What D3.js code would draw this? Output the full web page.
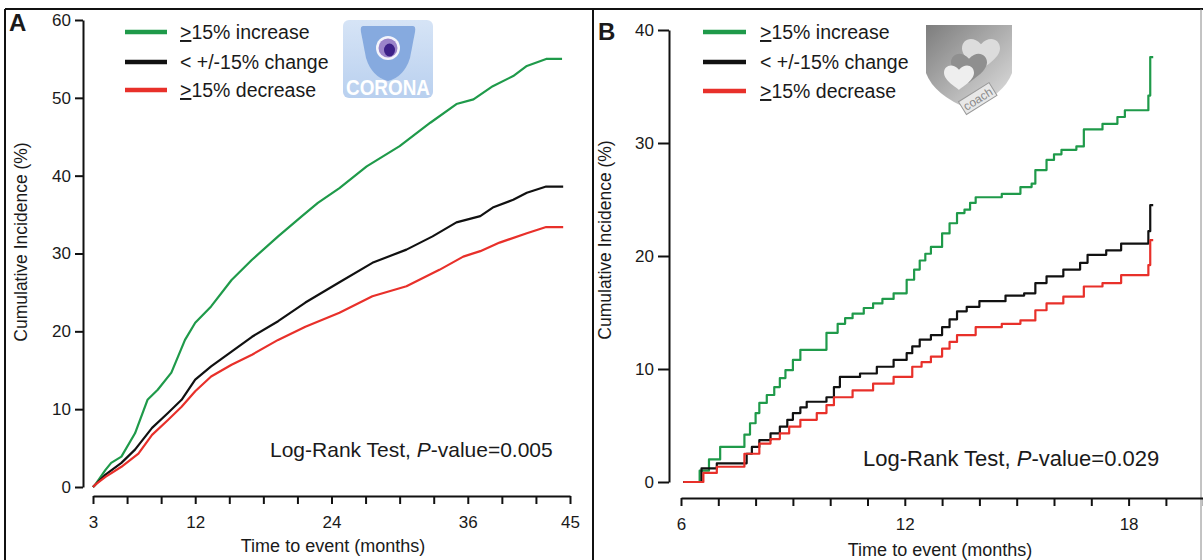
<!DOCTYPE html>
<html><head><meta charset="utf-8">
<script src="https://cdn.jsdelivr.net/npm/d3@7"></script>
<style>
body{margin:0;background:#fff;}
text{font-family:"Liberation Sans",Arial,Helvetica,sans-serif;fill:#1a1a1a;}
</style>
</head><body>
<svg id="c" width="1203" height="560"></svg>
<script>
// ---------- data ----------
const groupLabels = ["15% increase", "< +/-15% change", "15% decrease"];
const groupUnderlinedGE = [true, false, true];
const groupColors = ["#1f9a4a", "#111111", "#e8302a"];

// Panel A (CORONA) : [months, cumulative incidence %]
const coronaIncrease = [[3,0],[3.2,0.3],[4.1,2.2],[4.6,3.1],[5.5,3.9],[6.7,6.9],[7.8,11.2],[8.7,12.5],[9.9,14.7],[11.1,18.9],[12.0,21.1],[13.4,23.2],[15.2,26.6],[17.0,29.2],[19.3,32.2],[21.4,34.8],[22.8,36.5],[24.7,38.4],[27.1,41.2],[30.0,43.8],[32.7,46.8],[35.0,49.2],[36.5,49.8],[38.2,51.5],[40.0,52.8],[41.2,54.1],[42.9,55.0],[44.3,55.0]];
const coronaChange = [[3,0],[3.2,0.3],[4.1,1.6],[5.5,3.1],[6.7,4.8],[8.2,7.6],[9.6,9.5],[10.8,11.2],[12.0,13.8],[13.4,15.5],[15.2,17.4],[17.0,19.3],[19.3,21.3],[21.7,23.7],[24.7,26.3],[27.6,28.8],[30.6,30.5],[32.9,32.2],[35.0,34.0],[37.1,34.8],[38.2,35.9],[40.0,36.9],[41.2,37.8],[42.9,38.6],[44.4,38.6]];
const coronaDecrease = [[3,0],[3.2,0.3],[4.1,1.3],[5.5,2.6],[7.0,4.3],[8.2,6.7],[9.6,8.6],[10.8,10.3],[12.0,12.3],[13.4,14.2],[15.2,15.7],[17.0,17.0],[19.3,18.9],[21.7,20.6],[24.7,22.4],[27.6,24.5],[30.6,25.8],[33.5,27.9],[35.6,29.6],[37.1,30.3],[38.8,31.4],[41.2,32.6],[42.9,33.4],[44.4,33.4]];

// Panel B (COACH) : step events [months, cumulative incidence %]
const coachIncrease = [[6.06,0],[6.5,1.0],[6.75,2.0],[7.05,3.1],[7.7,4.2],[7.85,5.2],[8.0,6.1],[8.1,7.0],[8.3,7.7],[8.5,8.4],[8.65,9.2],[8.8,9.9],[9.0,10.8],[9.2,11.7],[9.9,13.2],[10.2,14.0],[10.4,14.5],[10.6,14.9],[10.9,15.4],[11.15,15.8],[11.4,16.2],[11.7,16.7],[12.05,17.9],[12.25,18.8],[12.4,19.6],[12.55,20.2],[12.7,20.8],[13.0,22.0],[13.2,22.9],[13.4,23.8],[13.6,24.1],[13.75,24.7],[13.9,25.2],[14.6,25.5],[15.1,26.1],[15.4,26.4],[15.5,27.6],[15.8,28.5],[16.0,29.0],[16.2,29.4],[16.6,29.7],[16.8,31.2],[17.3,31.7],[17.7,32.3],[17.9,32.9],[18.53,34.2],[18.58,37.6],[18.66,37.6]];
const coachChange = [[6.06,0],[6.55,1.2],[6.96,1.65],[7.76,2.5],[7.9,3.1],[8.1,3.7],[8.4,4.3],[8.65,4.9],[8.85,5.5],[9.0,6.1],[9.2,6.6],[9.37,7.1],[9.9,7.5],[10.1,8.4],[10.26,9.3],[10.8,9.6],[11.25,10.2],[11.7,10.8],[12.05,11.4],[12.2,12.0],[12.4,12.6],[12.7,13.0],[13.0,13.7],[13.2,14.4],[13.4,15.1],[13.66,15.5],[14.0,16.0],[14.7,16.5],[15.2,16.7],[15.5,17.6],[15.8,18.2],[16.25,18.8],[16.7,19.4],[16.9,20.1],[17.4,20.5],[17.8,21.1],[18.53,22.2],[18.58,24.5],[18.66,24.5]];
const coachDecrease = [[6.06,0],[6.6,0.8],[6.96,1.35],[7.7,2.5],[8.1,3.4],[8.4,3.8],[8.65,4.3],[8.9,4.9],[9.2,5.5],[9.64,6.1],[9.9,6.8],[10.1,7.5],[10.6,8.1],[11.15,8.7],[11.7,9.3],[12.2,10.2],[12.45,10.6],[12.7,11.1],[13.0,11.8],[13.2,12.4],[13.4,13.0],[13.9,13.7],[14.6,14.0],[15.1,14.3],[15.5,15.2],[15.8,15.8],[16.25,16.4],[16.8,17.3],[17.3,17.6],[17.8,18.3],[18.53,19.2],[18.58,21.4],[18.66,21.4]];

const xTicksA = d3.range(3, 46, 3);
const xTickLabelsA = [3, 12, 24, 36, 45];
const yTicksA = [0, 10, 20, 30, 40, 50, 60];
const xTicksB = d3.range(6, 21, 1);
const xTickLabelsB = [6, 12, 18];
const yTicksB = [0, 10, 20, 30, 40];
const axisTitleX = "Time to event (months)";
const axisTitleY = "Cumulative Incidence (%)";
const pValueA = "0.005";
const pValueB = "0.029";

// ---------- drawing ----------
const svg = d3.select("#c");
svg.append("rect").attr("width",1203).attr("height",560).attr("fill","#fff");

// frame
const frame = svg.append("g").attr("stroke","#111").attr("stroke-width",2);
frame.append("line").attr("x1",5).attr("x2",1203).attr("y1",9).attr("y2",9);
frame.append("line").attr("x1",5).attr("x2",5).attr("y1",9).attr("y2",560);
frame.append("line").attr("x1",593).attr("x2",593).attr("y1",9).attr("y2",560);
frame.append("line").attr("x1",1201).attr("x2",1201).attr("y1",9).attr("y2",560).attr("stroke-width",1).attr("stroke","#888");

function styleAxis(g){
  g.select(".domain").attr("stroke","#111").attr("stroke-width",2);
  g.selectAll(".tick line").attr("stroke","#111").attr("stroke-width",2);
  g.selectAll(".tick text").attr("font-size",17).attr("fill","#1a1a1a")
   .attr("font-family",'"Liberation Sans",Arial,sans-serif');
}

function panel(cfg){
  const g = svg.append("g");
  const x = d3.scaleLinear().domain(cfg.xDomain).range(cfg.xRange);
  const y = d3.scaleLinear().domain(cfg.yDomain).range(cfg.yRange);

  g.append("g").attr("transform",`translate(${cfg.yAxisX},0)`)
    .call(d3.axisLeft(y).tickValues(cfg.yTicks).tickSize(cfg.yTickLen).tickSizeOuter(0).tickPadding(4))
    .call(styleAxis);
  g.append("g").attr("transform",`translate(0,${cfg.xAxisY})`)
    .call(d3.axisBottom(x).tickValues(cfg.xTicks).tickSize(8).tickSizeOuter(0).tickPadding(12)
      .tickFormat(d => cfg.xLabels.includes(d) ? d : ""))
    .call(styleAxis);

  // axis titles
  g.append("text").attr("x",cfg.xTitleX).attr("y",cfg.xTitleY).attr("text-anchor","middle")
    .attr("font-size",18).text(axisTitleX);
  g.append("text").attr("transform",`translate(${cfg.yTitleX},${cfg.yTitleY}) rotate(-90)`)
    .attr("text-anchor","middle").attr("font-size",17.5).text(axisTitleY);

  // curves
  const line = d3.line().x(d => x(d[0])).y(d => y(d[1])).curve(cfg.curve);
  cfg.series.forEach((s,i) => {
    g.append("path").datum(s).attr("d",line).attr("fill","none")
      .attr("stroke",groupColors[i]).attr("stroke-width",2.2).attr("stroke-linejoin","round");
  });

  // legend
  cfg.legendY.forEach((ly,i) => {
    g.append("line").attr("x1",cfg.legendX0).attr("x2",cfg.legendX1).attr("y1",ly).attr("y2",ly)
      .attr("stroke",groupColors[i]).attr("stroke-width",4.5);
    const t = g.append("text").attr("x",cfg.legendTextX).attr("y",ly+7).attr("font-size",19.5);
    if (groupUnderlinedGE[i]) {
      t.append("tspan").attr("text-decoration","underline").text(">");
    }
    t.append("tspan").text(groupLabels[i]);
  });

  // log-rank
  const lr = g.append("text").attr("x",cfg.lrX).attr("y",cfg.lrY).attr("font-size",cfg.lrSize);
  lr.append("tspan").text("Log-Rank Test, ");
  lr.append("tspan").attr("font-style","italic").text("P");
  lr.append("tspan").text("-value=" + cfg.pValue);

  // panel letter
  g.append("text").attr("x",cfg.letterX).attr("y",cfg.letterY).attr("font-size",24)
    .attr("font-weight","bold").attr("fill","#000").text(cfg.letter);
  return g;
}

panel({
  xDomain:[3,45], xRange:[93,570], yDomain:[0,60], yRange:[487,20],
  yAxisX:83, yTickLen:8, xAxisY:496, yTicks:yTicksA, xTicks:xTicksA, xLabels:xTickLabelsA,
  xTitleX:333, xTitleY:552, yTitleX:27, yTitleY:242,
  curve:d3.curveLinear, series:[coronaIncrease, coronaChange, coronaDecrease],
  legendY:[32,62,90], legendX0:125, legendX1:167, legendTextX:180,
  lrX:270, lrY:457, lrSize:21, pValue:pValueA, letter:"A", letterX:9, letterY:31
});
panel({
  xDomain:[6,20], xRange:[681,1203.2], yDomain:[0,40], yRange:[482,30],
  yAxisX:669, yTickLen:11, xAxisY:498, yTicks:yTicksB, xTicks:xTicksB, xLabels:xTickLabelsB,
  xTitleX:940, xTitleY:556, yTitleX:611, yTitleY:240,
  curve:d3.curveStepAfter, series:[coachIncrease, coachChange, coachDecrease],
  legendY:[32,62,91], legendX0:703, legendX1:746, legendTextX:760,
  lrX:863, lrY:466, lrSize:22, pValue:pValueB, letter:"B", letterX:598, letterY:40
});

// ---------- logos ----------
const defs = svg.append("defs");
const gb = defs.append("linearGradient").attr("id","gBlue").attr("x1",0).attr("y1",0).attr("x2",0).attr("y2",1);
gb.append("stop").attr("offset",0).attr("stop-color","#d6e4f6");
gb.append("stop").attr("offset",1).attr("stop-color","#b9d0ef");
const gg = defs.append("linearGradient").attr("id","gGray").attr("x1",0).attr("y1",0).attr("x2",1).attr("y2",1);
gg.append("stop").attr("offset",0).attr("stop-color","#7d7d7d");
gg.append("stop").attr("offset",1).attr("stop-color","#e2e2e2");

const corona = svg.append("g").attr("transform","translate(343,20)");
corona.append("rect").attr("width",90).attr("height",78).attr("rx",6).attr("fill","url(#gBlue)");
corona.append("path").attr("d","M20 6 L70 6 Q73 6 72 12 L67 38 Q61 57 45 61 Q29 57 23 38 L18 12 Q17 6 20 6 Z")
  .attr("fill","#86aadf");
corona.append("circle").attr("cx",45).attr("cy",28).attr("r",12).attr("fill","#f4f4fb");
corona.append("circle").attr("cx",45).attr("cy",28).attr("r",9.5).attr("fill","#9b84c9");
corona.append("ellipse").attr("cx",46.5).attr("cy",30).attr("rx",5.5).attr("ry",6.5).attr("fill","#3d2188");
corona.append("text").attr("x",45).attr("y",75).attr("text-anchor","middle").attr("font-size",22)
  .attr("font-weight","bold").attr("textLength",84).attr("lengthAdjust","spacingAndGlyphs")
  .style("fill","#ffffff").text("CORONA");

function heart(cx, cy, s){
  const p = [[0,1],[-0.1,0.85],[-1,0.4],[-1,-0.15],[-1,-0.6],[-0.45,-0.85],[0,-0.35],[0.45,-0.85],[1,-0.6],[1,-0.15],[1,0.4],[0.1,0.85],[0,1]]
    .map(d => [cx + d[0]*s, cy + d[1]*s]);
  return `M${p[0]} C${p[1]} ${p[2]} ${p[3]} C${p[4]} ${p[5]} ${p[6]} C${p[7]} ${p[8]} ${p[9]} C${p[10]} ${p[11]} ${p[12]} Z`;
}
const coach = svg.append("g").attr("transform","translate(926,25)");
coach.append("path").attr("d","M0 0 H86 V48 Q78 70 43 84 Q8 70 0 48 Z").attr("fill","url(#gGray)");
coach.append("path").attr("d",heart(55,26,19)).attr("fill","#dcdcdc");
coach.append("path").attr("d",heart(43,40,18)).attr("fill","#8f8f8f");
coach.append("path").attr("d",heart(33,50,15)).attr("fill","#eeeeee");
const cb = coach.append("g").attr("transform","translate(52,74) rotate(-32)");
cb.append("rect").attr("x",-18).attr("y",-8).attr("width",36).attr("height",15).attr("fill","#e8e8e8").attr("stroke","#999");
cb.append("text").attr("x",0).attr("y",4).attr("text-anchor","middle").attr("font-size",12)
  .style("fill","#888").text("coach");
</script>
</body></html>
